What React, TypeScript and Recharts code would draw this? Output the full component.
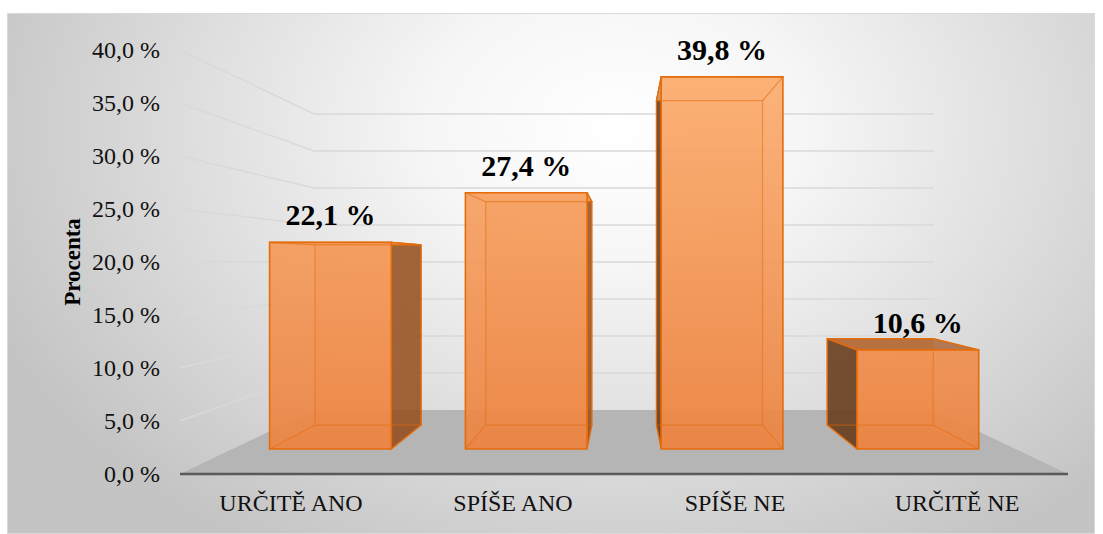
import React from 'react';
import { BarChart, Bar, XAxis, YAxis, CartesianGrid, LabelList } from 'recharts';

const categories = ['URČITĚ ANO', 'SPÍŠE ANO', 'SPÍŠE NE', 'URČITĚ NE'];
const percentages = [22.1, 27.4, 39.8, 10.6];
const yTicks = [0, 5, 10, 15, 20, 25, 30, 35, 40];

const data = categories.map((name, i) => ({ name, value: percentages[i] }));

// fake 3D: everything is laid out on the front (axis) plane, then pushed back towards a vanishing point
const VP = { x: 624, y: 262 };
const S_FRONT = 0.882;
const S_BACK = 0.769;
const S_WALL = 0.698;
const PLOT_BOTTOM = 474;

const SERIF = '"Liberation Serif", "Times New Roman", serif';

const proj = (x: number, y: number, s: number): [number, number] => [
    VP.x + (x - VP.x) * s,
    VP.y + (y - VP.y) * s,
];
const pts = (...p: [number, number][]) => p.map((q) => `${q[0]},${q[1]}`).join(' ');
const fmt = (v: number) => v.toFixed(1).replace('.', ',') + ' %';

const GridLine = (props: any) => {
    const { x1, y1, x2, index } = props;
    const [bx1, by] = proj(x1, y1, S_WALL);
    const [bx2] = proj(x2, y1, S_WALL);
    if (Math.abs(y1 - PLOT_BOTTOM) < 1) {
        // floor
        return (
            <polygon
                key={`floor-${index}`}
                points={pts([x1, y1], [x2, y1], [bx2, by], [bx1, by])}
                fill="#b5b5b5"
            />
        );
    }
    return (
        <polyline
            key={`grid-${index}`}
            points={pts([x1, y1], [bx1, by], [bx2, by])}
            fill="none"
            stroke="#d9d9d9"
            strokeWidth={1.5}
        />
    );
};

const Box3D = (props: any) => {
    const { x, y, width, height, index } = props;
    if (width == null || height == null) return null;
    const l = x, r = x + width, t = y, b = y + height;
    const flt = proj(l, t, S_FRONT), frt = proj(r, t, S_FRONT), frb = proj(r, b, S_FRONT), flb = proj(l, b, S_FRONT);
    const blt = proj(l, t, S_BACK), brt = proj(r, t, S_BACK), brb = proj(r, b, S_BACK), blb = proj(l, b, S_BACK);
    const leftVisible = l > VP.x;
    const rightVisible = r < VP.x;
    const topVisible = flt[1] > blt[1];
    const edge = '#E46C0A';
    return (
        <g key={`box-${index}`}>
            {/* back + bottom faces, seen through the glass */}
            <polygon points={pts(blt, brt, brb, blb)} fill="#F79646" fillOpacity={0.4} />
            <polygon points={pts(flb, frb, brb, blb)} fill="#E47A30" fillOpacity={0.4} />
            {leftVisible && (
                <polygon points={pts(flt, blt, blb, flb)} fill="#5c3418" fillOpacity={0.82} stroke={edge} strokeWidth={1.2} />
            )}
            {rightVisible && (
                <polygon points={pts(frt, brt, brb, frb)} fill="#8a4719" fillOpacity={0.78} stroke={edge} strokeWidth={1.2} />
            )}
            {topVisible ? (
                <polygon points={pts(flt, frt, brt, blt)} fill="#a3521c" fillOpacity={0.72} stroke={edge} strokeWidth={1.2} />
            ) : (
                <polygon points={pts(flt, frt, brt, blt)} fill="#FDBF8A" fillOpacity={0.6} stroke={edge} strokeWidth={1.2} />
            )}
            <polygon points={pts(flt, frt, frb, flb)} fill="url(#barFront)" fillOpacity={0.93} />
            {/* inner edges */}
            <g stroke={edge} strokeWidth={1.2} strokeOpacity={0.5} fill="none">
                <polygon points={pts(blt, brt, brb, blb)} />
                <line x1={flt[0]} y1={flt[1]} x2={blt[0]} y2={blt[1]} />
                <line x1={frt[0]} y1={frt[1]} x2={brt[0]} y2={brt[1]} />
                <line x1={frb[0]} y1={frb[1]} x2={brb[0]} y2={brb[1]} />
                <line x1={flb[0]} y1={flb[1]} x2={blb[0]} y2={blb[1]} />
            </g>
            <polygon points={pts(flt, frt, frb, flb)} fill="none" stroke={edge} strokeWidth={1.6} />
        </g>
    );
};

const renderValueLabel = (props: any) => {
    const vb = props.viewBox || props;
    const x = props.x ?? vb.x;
    const y = props.y ?? vb.y;
    const width = props.width ?? vb.width;
    const [cx, ty] = proj(x + width / 2, y, S_FRONT);
    return (
        <text
            key={`lbl-${props.index}`}
            x={cx}
            y={ty - 17}
            textAnchor="middle"
            fontFamily={SERIF}
            fontWeight="bold"
            fontSize={30}
            fill="#000"
        >
            {fmt(Number(props.value))}
        </text>
    );
};

const XTick = (props: any) => (
    <text x={props.x} y={props.y} dy="0.35em" textAnchor="middle" fontFamily={SERIF} fontSize={24} fill="#111">
        {props.payload.value}
    </text>
);

const YTick = (props: any) => (
    <text x={props.x} y={props.y} dy="0.35em" textAnchor="end" fontFamily={SERIF} fontSize={24} fill="#111">
        {fmt(props.payload.value)}
    </text>
);

const YTitle = (props: any) => {
    const vb = props.viewBox;
    const cx = vb.x + 72;
    const cy = vb.y + vb.height / 2;
    return (
        <text
            x={cx}
            y={cy}
            transform={`rotate(-90 ${cx} ${cy})`}
            dy="0.35em"
            textAnchor="middle"
            fontFamily={SERIF}
            fontWeight="bold"
            fontSize={23}
            fill="#000"
        >
            Procenta
        </text>
    );
};

export default function App() {
    return (
        <div style={{ position: 'absolute', left: 0, top: 0, width: 1103, height: 534, background: '#fff' }}>
            <div
                style={{
                    position: 'absolute',
                    left: 7,
                    top: 13,
                    width: 1088,
                    height: 521,
                    boxSizing: 'border-box',
                    border: '1px solid #d9d9d9',
                    background:
                        'radial-gradient(ellipse 62% 95% at 56% 22%, #ffffff 0%, #f6f6f6 28%, #e0e0e0 60%, #c4c4c4 100%)',
                }}
            />
            <div style={{ position: 'absolute', left: 0, top: 0 }}>
                <BarChart
                    width={1103}
                    height={534}
                    data={data}
                    margin={{ top: 50, right: 35, bottom: 0, left: 0 }}
                    barCategoryGap="19%"
                >
                    <defs>
                        <linearGradient id="barFront" x1="0" y1="60" x2="0" y2="450" gradientUnits="userSpaceOnUse">
                            <stop offset="0%" stopColor="#FCB074" />
                            <stop offset="100%" stopColor="#EC8442" />
                        </linearGradient>
                    </defs>
                    <CartesianGrid vertical={false} horizontal={GridLine} />
                    <XAxis
                        dataKey="name"
                        height={60}
                        tickLine={false}
                        tickSize={0}
                        tickMargin={29}
                        axisLine={{ stroke: '#5a5a5a', strokeWidth: 2.5 }}
                        tick={<XTick />}
                    />
                    <YAxis
                        width={180}
                        domain={[0, 40]}
                        ticks={yTicks}
                        axisLine={false}
                        tickLine={false}
                        tickSize={0}
                        tickMargin={20}
                        tick={<YTick />}
                        label={{ content: YTitle }}
                    />
                    <Bar dataKey="value" shape={Box3D} isAnimationActive={false}>
                        <LabelList dataKey="value" content={renderValueLabel} />
                    </Bar>
                </BarChart>
            </div>
        </div>
    );
}
